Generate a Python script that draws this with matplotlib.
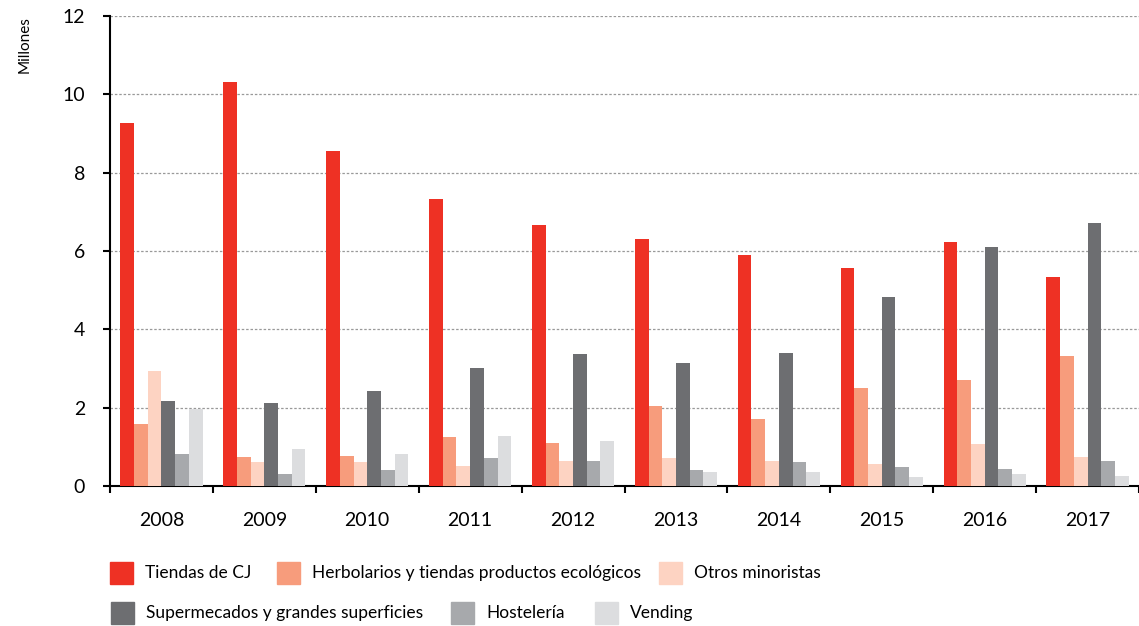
import matplotlib.pyplot as plt
import matplotlib.patches as mpatches
import numpy as np

years = ["2008", "2009", "2010", "2011", "2012", "2013", "2014", "2015", "2016", "2017"]

tiendas_cj = [9.26, 10.31, 8.55, 7.32, 6.66, 6.30, 5.89, 5.56, 6.22, 5.33]
herbolarios = [1.58, 0.74, 0.77, 1.25, 1.10, 2.04, 1.71, 2.50, 2.70, 3.32]
otros_minoristas = [2.93, 0.61, 0.61, 0.51, 0.64, 0.71, 0.64, 0.56, 1.07, 0.74]
supermercados = [2.17, 2.12, 2.42, 3.01, 3.37, 3.14, 3.39, 4.82, 6.10, 6.71]
hosteleria = [0.82, 0.31, 0.41, 0.71, 0.64, 0.41, 0.61, 0.48, 0.43, 0.64]
vending = [1.96, 0.94, 0.82, 1.28, 1.15, 0.36, 0.36, 0.23, 0.31, 0.26]

series = [tiendas_cj, herbolarios, otros_minoristas, supermercados, hosteleria, vending]
labels = ["Tiendas de CJ", "Herbolarios y tiendas productos ecológicos", "Otros minoristas",
          "Supermecados y grandes superficies", "Hostelería", "Vending"]
colors = ["#EE3124", "#F79C7C", "#FDD3C2", "#6D6E71", "#A7A9AC", "#DCDDDF"]

plt.rcParams['font.family'] = ['Lato', 'DejaVu Sans']

fig = plt.figure(figsize=(11.39, 6.26), dpi=100)
ax = fig.add_axes([110 / 1139, 1 - 486 / 626, 1 - 110 / 1139, (486 - 16) / 626])

x = np.arange(len(years))
w = 0.133
for i, (vals, col) in enumerate(zip(series, colors)):
    ax.bar(x + (i - 2.5) * w, vals, width=w, color=col, zorder=3)

ax.set_xlim(-0.5, 9.5)
ax.set_ylim(0, 12)
ax.set_yticks(range(0, 13, 2))
ax.set_xticks(x)
ax.set_xticklabels(years)
ax.set_xticks(np.arange(-0.5, 10, 1), minor=True)
ax.tick_params(axis='x', which='major', length=0, pad=19, labelsize=14)
ax.tick_params(axis='x', which='minor', length=5, width=1.5, direction='out')
ax.tick_params(axis='y', length=5, width=1.5, pad=13, labelsize=14)

for v in range(2, 13, 2):
    ax.axhline(v, color='#999999', linestyle=(0, (2, 1.5)), linewidth=0.9, zorder=1)

for s in ['top', 'right']:
    ax.spines[s].set_visible(False)
ax.spines['left'].set_linewidth(1.5)
ax.spines['bottom'].set_linewidth(1.5)

fig.text(25 / 1139, 1 - 45 / 626, "Millones", rotation=90, ha='center', va='center', fontsize=11)

# legend, laid out like the original (flowing, two rows)
leg_pos = [(110, 573), (277, 573), (659, 573), (111, 613), (451, 613), (595, 613)]
for (px, py), lab, col in zip(leg_pos, labels, colors):
    fig.patches.append(mpatches.Rectangle((px / 1139, 1 - (py + 11) / 626), 23 / 1139, 22 / 626,
                                          transform=fig.transFigure, color=col))
    fig.text((px + 35) / 1139, 1 - py / 626, lab, ha='left', va='center', fontsize=12.5)

fig.savefig("out.png", dpi=100)
